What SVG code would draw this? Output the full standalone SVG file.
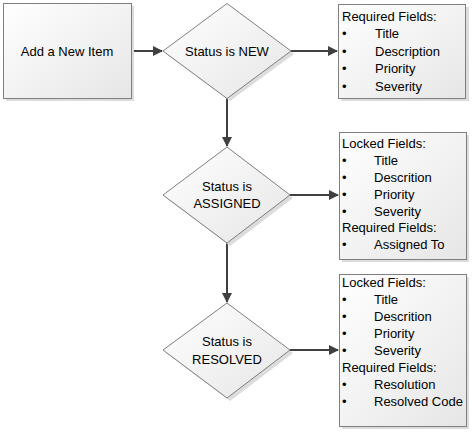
<svg xmlns="http://www.w3.org/2000/svg" width="472" height="433" viewBox="0 0 472 433">
<style>
.sh{fill:#dcdcdc;stroke:none}
.nd{fill:url(#g);stroke:#7f7f7f;stroke-width:1}
.t{font-family:"Liberation Sans",Arial,sans-serif;font-size:13px;fill:#000}
.c{text-anchor:middle}
.cn{fill:none;stroke:#404040;stroke-width:2}
</style>
<defs>
<linearGradient id="g" x1="0" y1="0" x2="1" y2="1">
<stop offset="0" stop-color="#ffffff"/>
<stop offset="1" stop-color="#e6e6e6"/>
</linearGradient>
<marker id="ah" markerWidth="10" markerHeight="10" refX="9" refY="5" orient="auto" markerUnits="userSpaceOnUse">
<path d="M0,0 L10,5 L0,10 Z" fill="#404040"/>
</marker>
</defs>
<g id="connectors">
<line class="cn" x1="131" y1="51" x2="162" y2="51" marker-end="url(#ah)"/>
<line class="cn" x1="291" y1="51" x2="337" y2="51" marker-end="url(#ah)"/>
<line class="cn" x1="227" y1="98" x2="227" y2="146" marker-end="url(#ah)"/>
<line class="cn" x1="290" y1="195" x2="338" y2="195" marker-end="url(#ah)"/>
<line class="cn" x1="227" y1="243" x2="227" y2="302" marker-end="url(#ah)"/>
<line class="cn" x1="290" y1="350" x2="338" y2="350" marker-end="url(#ah)"/>
</g>
<g id="add-item">
<rect class="sh" x="6" y="6" width="128" height="95"/>
<rect class="nd" x="3.5" y="3.5" width="128" height="95"/>
<text class="t c" x="67" y="56">Add a New Item</text>
</g>
<g id="status-new">
<polygon class="sh" points="230,6 294,54 230,101 166,54"/>
<polygon class="nd" points="227,3.5 291,51 227,98.5 163,51"/>
<text class="t c" x="227" y="56">Status is NEW</text>
</g>
<g id="new-fields">
<rect class="sh" x="341" y="7" width="128" height="94"/>
<rect class="nd" x="338.5" y="4.5" width="127" height="94"/>
<text class="t" x="342" y="20.5">Required Fields:</text>
<g class="t"><text x="342" y="38">•</text><text x="375" y="38">Title</text>
<text x="342" y="55.5">•</text><text x="375" y="55.5">Description</text>
<text x="342" y="73">•</text><text x="375" y="73">Priority</text>
<text x="342" y="90.5">•</text><text x="375" y="90.5">Severity</text></g>
</g>
<g id="status-assigned">
<polygon class="sh" points="230,150 293,198 230,246 166,198"/>
<polygon class="nd" points="227,147 290,195 227,243 163,195"/>
<text class="t c" x="227" y="190.5">Status is</text>
<text class="t c" x="227" y="207.5">ASSIGNED</text>
</g>
<g id="assigned-fields">
<rect class="sh" x="342" y="135" width="127" height="127"/>
<rect class="nd" x="339.5" y="132.5" width="127" height="127"/>
<g class="t"><text x="342" y="148">Locked Fields:</text>
<text x="342" y="165">•</text><text x="374" y="165">Title</text>
<text x="342" y="182">•</text><text x="374" y="182">Descrition</text>
<text x="342" y="198.5">•</text><text x="374" y="198.5">Priority</text>
<text x="342" y="215.5">•</text><text x="374" y="215.5">Severity</text>
<text x="342" y="232">Required Fields:</text>
<text x="342" y="249">•</text><text x="374" y="249">Assigned To</text></g>
</g>
<g id="status-resolved">
<polygon class="sh" points="230,306 293,353 230,401 166,353"/>
<polygon class="nd" points="227,303 290,350 227,398 163,350"/>
<text class="t c" x="227" y="346">Status is</text>
<text class="t c" x="227" y="363.5">RESOLVED</text>
</g>
<g id="resolved-fields">
<rect class="sh" x="342" y="277" width="127" height="152"/>
<rect class="nd" x="339.5" y="274.5" width="127" height="152"/>
<g class="t"><text x="342" y="287">Locked Fields:</text>
<text x="342" y="304">•</text><text x="374" y="304">Title</text>
<text x="342" y="321">•</text><text x="374" y="321">Descrition</text>
<text x="342" y="337.5">•</text><text x="374" y="337.5">Priority</text>
<text x="342" y="354.5">•</text><text x="374" y="354.5">Severity</text>
<text x="342" y="371.5">Required Fields:</text>
<text x="342" y="388.5">•</text><text x="374" y="388.5">Resolution</text>
<text x="342" y="405.5">•</text><text x="374" y="405.5">Resolved Code</text></g>
</g>
</svg>
